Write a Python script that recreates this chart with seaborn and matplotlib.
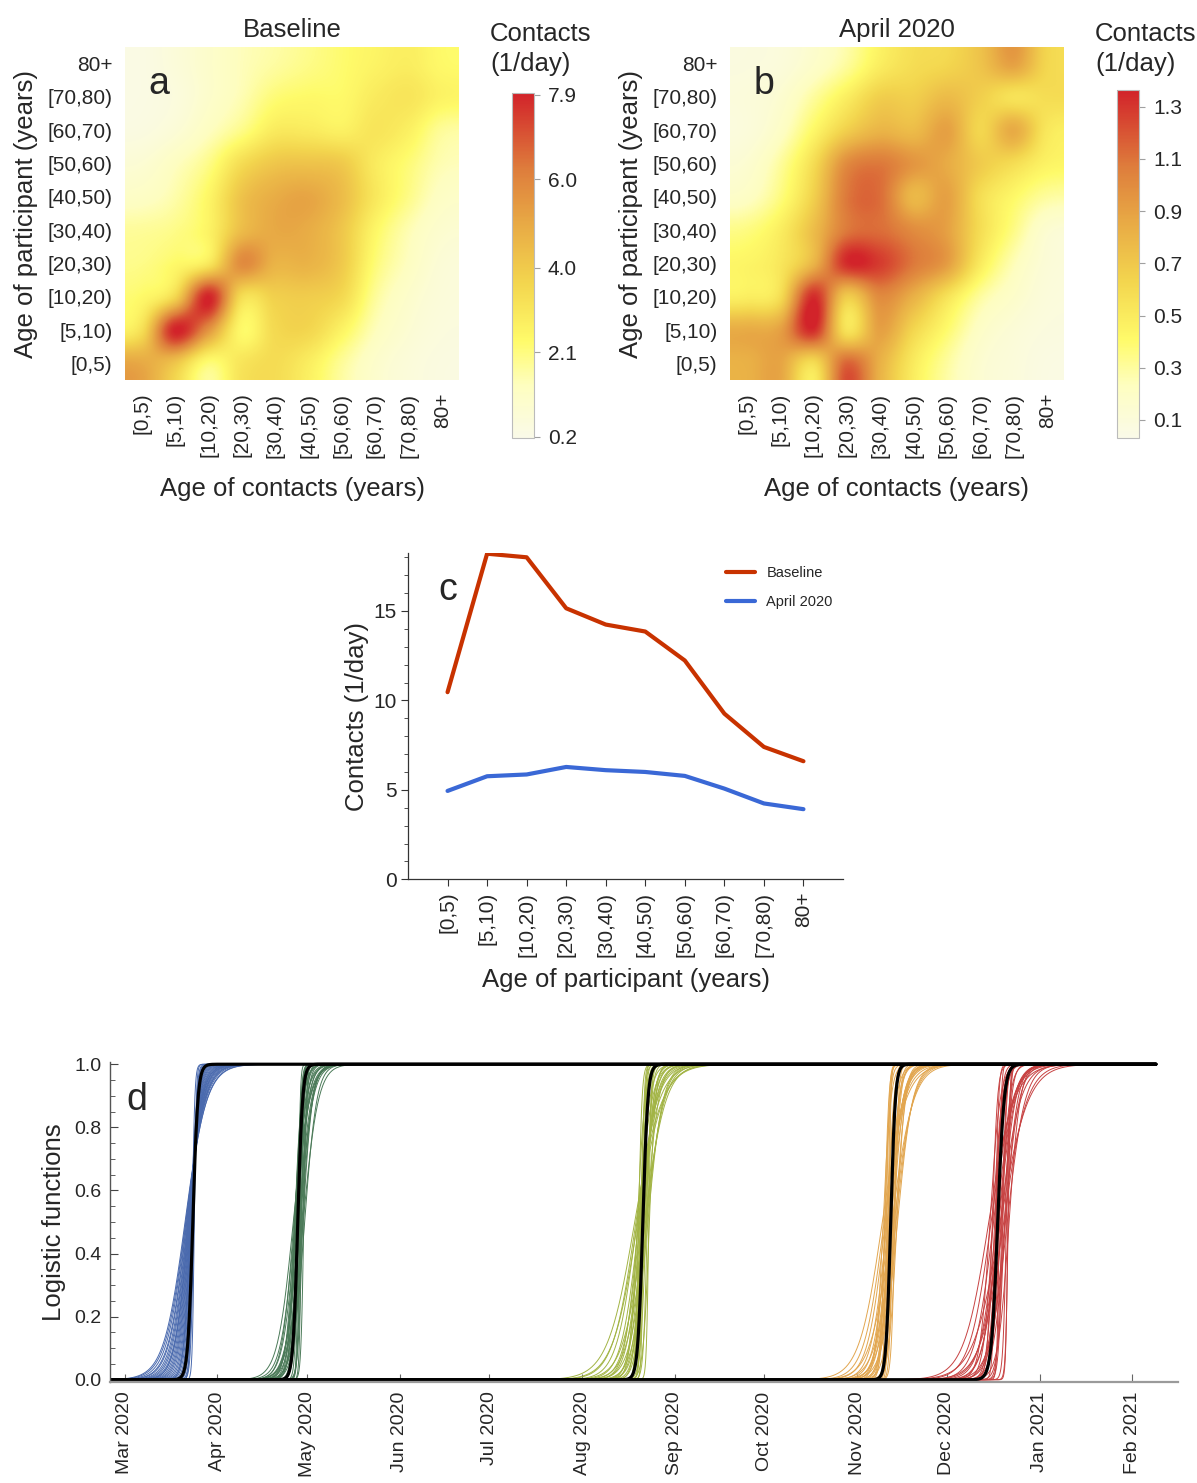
import numpy as np
import pandas as pd
import matplotlib
matplotlib.use("Agg")
import matplotlib.pyplot as plt
import matplotlib.dates as mdates
from matplotlib.colors import LinearSegmentedColormap
from matplotlib.ticker import MultipleLocator
import seaborn as sns

sns.set_theme(style="white")
plt.rcParams["font.family"] = ["Liberation Sans", "DejaVu Sans"]

# ---------------- data ----------------
age_groups = ["[0,5)", "[5,10)", "[10,20)", "[20,30)", "[30,40)",
              "[40,50)", "[50,60)", "[60,70)", "[70,80)", "80+"]

# rows = age of participant ([0,5) first ... 80+ last), columns = age of contacts
baseline_matrix = [
    [5.0, 4.1, 2.2, 3.1, 3.4, 2.8, 1.8, 1.0, 0.6, 0.4],
    [3.3, 7.9, 5.6, 2.4, 3.5, 3.6, 2.6, 1.4, 0.8, 0.5],
    [2.4, 3.6, 7.9, 3.4, 3.8, 3.9, 3.5, 1.8, 1.0, 0.6],
    [2.0, 2.4, 3.0, 5.8, 4.7, 4.7, 4.0, 2.2, 1.3, 0.7],
    [1.8, 2.0, 2.6, 4.4, 5.0, 4.9, 4.1, 2.5, 1.5, 0.9],
    [1.2, 1.6, 2.5, 4.2, 4.9, 5.1, 4.4, 3.0, 2.0, 1.2],
    [0.8, 1.3, 2.0, 3.4, 4.1, 4.2, 4.0, 2.9, 2.2, 1.5],
    [0.4, 0.7, 1.3, 2.0, 2.9, 2.9, 2.7, 3.1, 2.7, 1.8],
    [0.3, 0.5, 1.0, 1.5, 2.2, 2.4, 2.4, 2.9, 3.1, 2.6],
    [0.3, 0.6, 1.0, 1.4, 1.7, 2.0, 2.3, 2.6, 2.8, 2.4],
]
april_matrix = [
    [0.82, 0.88, 0.58, 1.15, 0.82, 0.50, 0.30, 0.15, 0.10, 0.06],
    [0.85, 0.90, 1.33, 0.55, 0.90, 0.62, 0.40, 0.20, 0.12, 0.08],
    [0.48, 0.58, 1.33, 0.68, 1.00, 0.82, 0.55, 0.30, 0.18, 0.10],
    [0.44, 0.52, 0.80, 1.33, 1.28, 1.08, 0.92, 0.50, 0.25, 0.12],
    [0.36, 0.48, 0.75, 1.08, 1.12, 1.00, 0.90, 0.58, 0.35, 0.15],
    [0.21, 0.36, 0.65, 1.08, 1.12, 0.78, 0.90, 0.58, 0.42, 0.30],
    [0.15, 0.30, 0.58, 1.00, 1.08, 0.95, 0.85, 0.68, 0.58, 0.45],
    [0.10, 0.20, 0.42, 0.66, 0.80, 0.76, 0.90, 0.62, 0.85, 0.52],
    [0.10, 0.15, 0.30, 0.48, 0.66, 0.66, 0.76, 0.66, 0.55, 0.58],
    [0.08, 0.10, 0.18, 0.30, 0.48, 0.58, 0.62, 0.72, 0.90, 0.62],
]
baseline_range = (0.17, 7.94)
april_range = (0.031, 1.364)
baseline_ticks = [0.2, 2.1, 4.0, 6.0, 7.9]
april_ticks = [0.1, 0.3, 0.5, 0.7, 0.9, 1.1, 1.3]

baseline_total = [10.46, 18.2, 18.0, 15.15, 14.24, 13.85, 12.23, 9.26, 7.40, 6.60]
april_total = [4.94, 5.76, 5.86, 6.28, 6.10, 6.00, 5.78, 5.07, 4.24, 3.92]

# logistic functions: midpoints (days after 1 Mar 2020) and rates (1/day)
origin = pd.Timestamp("2020-03-01")
blue_mid = [20.2, 20.4, 20.5, 20.7, 20.8, 21.0, 21.1, 21.2, 21.4, 21.5, 21.6, 21.7, 21.8, 21.9, 22.0,
            22.1, 22.2, 22.3, 22.4, 22.5, 22.6, 22.7, 22.8, 22.9, 23.0, 23.1, 21.3, 22.0, 22.6, 23.3]
blue_rate = [0.28, 0.29, 0.31, 0.33, 0.34, 0.36, 0.38, 0.40, 0.42, 0.44, 0.47, 0.50, 0.53, 0.56, 0.60,
             0.65, 0.70, 0.76, 0.83, 0.90, 1.00, 1.10, 1.25, 1.45, 1.70, 2.00, 0.45, 0.90, 2.40, 3.00]
green_mid = [56.4, 56.6, 56.8, 57.0, 57.1, 57.3, 57.4, 57.6, 57.7, 57.9, 58.0, 58.2, 58.3, 58.5, 58.6,
             58.8, 58.9, 59.1, 59.3, 59.5, 59.7, 59.9, 57.2, 57.8, 58.4, 59.0, 59.6, 56.9, 58.1, 60.2]
green_rate = [0.38, 0.50, 0.70, 0.42, 1.00, 0.46, 0.60, 1.50, 0.55, 0.80, 2.00, 0.48, 1.20, 0.65, 2.50,
              0.52, 0.90, 3.00, 0.58, 1.40, 0.40, 2.20, 0.75, 1.10, 0.45, 1.80, 0.62, 0.90, 3.20, 0.50]
olive_mid = [170.6, 171.0, 171.3, 171.6, 171.8, 172.0, 172.2, 172.4, 172.6, 172.8, 173.0, 173.2, 173.4, 173.6, 173.8,
             174.0, 174.2, 174.4, 174.6, 174.8, 175.0, 175.3, 171.5, 172.5, 173.5, 174.5, 175.5, 172.9, 173.7, 171.9]
olive_rate = [0.22, 0.26, 0.30, 0.24, 0.45, 0.34, 0.60, 0.38, 0.90, 0.42, 1.30, 0.50, 2.00, 0.55, 0.28,
              0.70, 0.32, 1.10, 0.36, 1.60, 0.40, 2.60, 0.80, 1.50, 3.00, 0.50, 1.00, 2.40, 0.65, 1.80]
orange_mid = [253.4, 253.7, 254.0, 254.2, 254.4, 254.6, 254.8, 255.0, 255.2, 255.4, 255.6, 255.8, 256.0, 256.2, 256.4,
              256.6, 256.8, 257.0, 257.2, 257.4, 257.6, 257.8, 258.0, 258.3, 254.3, 255.3, 256.3, 257.3, 258.5, 255.9]
orange_rate = [0.26, 0.80, 0.30, 1.50, 0.34, 0.60, 2.20, 0.38, 1.00, 0.42, 3.00, 0.46, 0.70, 0.50, 1.30,
               0.28, 2.00, 0.55, 0.90, 0.32, 1.70, 0.60, 0.36, 0.75, 1.20, 2.60, 0.44, 1.10, 0.40, 0.65]
red_mid = [289.0, 289.4, 289.8, 290.2, 290.6, 291.0, 291.3, 291.6, 291.9, 292.2, 292.5, 292.8, 293.1, 293.4, 293.7,
           294.0, 294.3, 294.6, 294.9, 295.2, 295.5, 295.8, 290.4, 291.4, 292.4, 293.4, 294.4, 295.4, 291.8, 293.0]
red_rate = [0.24, 0.60, 0.28, 1.20, 0.32, 0.80, 2.00, 0.36, 1.00, 0.40, 2.80, 0.30, 0.70, 0.45, 1.50,
            0.26, 0.90, 0.50, 1.80, 0.34, 2.40, 0.55, 0.65, 1.10, 0.38, 1.40, 0.42, 3.00, 0.75, 0.22]
mean_mid = [22.8, 57.9, 173.3, 256.2, 292.0]
mean_rate = [1.2, 1.26, 1.2, 1.3, 0.95]
day_span = (-4.9, 345.0)

# ---------------- styling ----------------
W, H = 1197, 1483
fig = plt.figure(figsize=(W / 100, H / 100), dpi=100)

def fx(px):
    return px / W

def fy(py):
    return 1 - py / H

cmap = LinearSegmentedColormap.from_list(
    "contacts",
    [(0.0, "#FAFAE8"), (0.15, "#FEFEC0"), (0.28, "#FFFB6A"), (0.45, "#F3D54E"),
     (0.62, "#E8AA45"), (0.78, "#DE7D3C"), (1.0, "#D2232A")])

LBL = 18.5
TCK = 15
LET = 27

def heat_panel(left_px, matrix, rng, ticks, title, letter, cbar_left, cbar_top, text_left):
    ax = fig.add_axes([fx(left_px), fy(380), fx(334), 333 / H])
    im = ax.imshow(np.array(matrix), origin="lower", cmap=cmap, vmin=rng[0], vmax=rng[1],
                   interpolation="catrom", interpolation_stage="data",
                   aspect="auto", extent=(-0.5, 9.5, -0.5, 9.5))
    ax.set_xticks(range(10))
    ax.set_yticks(range(10))
    ax.set_xticklabels(age_groups, rotation=90, fontsize=TCK, va="top")
    ax.set_yticklabels(age_groups, fontsize=TCK)
    ax.tick_params(length=0, pad=9)
    for s in ax.spines.values():
        s.set_visible(False)
    ax.set_xlabel("Age of contacts (years)", fontsize=LBL, labelpad=14)
    ax.set_ylabel("Age of participant (years)", fontsize=LBL, labelpad=7)
    ax.set_title(title, fontsize=LBL, pad=7)
    ax.text(0.07, 0.86, letter, transform=ax.transAxes, fontsize=LET, va="baseline")
    cax = fig.add_axes([fx(cbar_left), fy(438), fx(22), (438 - cbar_top) / H])
    cb = fig.colorbar(im, cax=cax, ticks=ticks)
    cb.ax.set_yticklabels([f"{t:.1f}" for t in ticks], fontsize=TCK)
    cb.ax.tick_params(length=4, width=0.8, color="#A0A0A0", pad=6)
    cb.outline.set_edgecolor("#BBBBBB")
    cb.outline.set_linewidth(0.8)
    fig.text(fx(text_left), fy(49), "Contacts\n(1/day)", fontsize=LBL, ha="left",
             va="center", linespacing=1.35)
    return ax

heat_panel(125, baseline_matrix, baseline_range, baseline_ticks, "Baseline", "a", 512, 93, 490)
heat_panel(730, april_matrix, april_range, april_ticks, "April 2020", "b", 1117, 90, 1095)

# ---------------- panel c ----------------
axc = fig.add_axes([fx(408), fy(879.3), fx(435), 326.3 / H])
df_c = pd.DataFrame({
    "age": list(range(10)) * 2,
    "contacts": baseline_total + april_total,
    "period": ["Baseline"] * 10 + ["April 2020"] * 10,
})
sns.lineplot(data=df_c, x="age", y="contacts", hue="period",
             palette={"Baseline": "#C83200", "April 2020": "#3A68D6"},
             linewidth=3.0, ax=axc)
axc.set_xlim(-1, 10)
axc.set_ylim(0, 18.24)
axc.set_xticks(range(10))
axc.set_xticklabels(age_groups, rotation=90, fontsize=TCK, va="top")
axc.set_yticks([0, 5, 10, 15])
axc.set_yticklabels(["0", "5", "10", "15"], fontsize=TCK)
axc.yaxis.set_minor_locator(MultipleLocator(1))
axc.tick_params(axis="both", which="major", direction="out", length=5, width=0.8,
                color="#333333", pad=3, left=True, bottom=True)
axc.tick_params(axis="y", which="minor", direction="out", length=3, width=0.6,
                color="#333333", left=True)
axc.tick_params(axis="x", which="major", pad=4)
for s in ["top", "right"]:
    axc.spines[s].set_visible(False)
for s in ["left", "bottom"]:
    axc.spines[s].set_color("#333333")
    axc.spines[s].set_linewidth(0.9)
axc.set_xlabel("Age of participant (years)", fontsize=LBL, labelpad=8)
axc.set_ylabel("Contacts (1/day)", fontsize=LBL, labelpad=3)
axc.text(0.07, 0.855, "c", transform=axc.transAxes, fontsize=LET, va="baseline")
axc.legend(loc="upper left", bbox_to_anchor=(0.7, 1.0), frameon=False,
           fontsize=10.5, handlelength=2.0, handletextpad=0.8, labelspacing=1.0)

# ---------------- panel d ----------------
axd = fig.add_axes([fx(110), fy(1381.7), fx(1068), 320 / H])
t = np.arange(day_span[0], day_span[1] + 0.001, 0.2)
dates = origin + pd.to_timedelta(t, unit="D")
groups = [("blue", blue_mid, blue_rate), ("green", green_mid, green_rate),
          ("olive", olive_mid, olive_rate), ("orange", orange_mid, orange_rate),
          ("red", red_mid, red_rate)]
frames = []
for g, mids, rates in groups:
    for i, (m, k) in enumerate(zip(mids, rates)):
        frames.append(pd.DataFrame({"date": dates, "value": 1 / (1 + np.exp(-k * (t - m))),
                                    "group": g, "curve": f"{g}{i}"}))
df_d = pd.concat(frames, ignore_index=True)
palette_d = {"blue": "#4A6AAE", "green": "#4B7A58", "olive": "#A2B444",
             "orange": "#E2A64F", "red": "#C74242"}
sns.lineplot(data=df_d, x="date", y="value", hue="group", units="curve", estimator=None,
             palette=palette_d, linewidth=0.7, legend=False, ax=axd)
mean_frames = []
for i, (m, k) in enumerate(zip(mean_mid, mean_rate)):
    mean_frames.append(pd.DataFrame({"date": dates, "value": 1 / (1 + np.exp(-k * (t - m))),
                                     "curve": f"mean{i}"}))
df_mean = pd.concat(mean_frames, ignore_index=True)
sns.lineplot(data=df_mean, x="date", y="value", units="curve", estimator=None,
             color="black", linewidth=2.3, legend=False, ax=axd)
axd.set_xlim(origin + pd.Timedelta(days=-4.9), origin + pd.Timedelta(days=352.3))
axd.set_ylim(-0.006, 1.008)
axd.xaxis.set_major_locator(mdates.MonthLocator())
axd.xaxis.set_major_formatter(mdates.DateFormatter("%b %Y"))
plt.setp(axd.get_xticklabels(), rotation=90, fontsize=14, va="top", ha="center")
axd.set_yticks([0, 0.2, 0.4, 0.6, 0.8, 1.0])
axd.set_yticklabels(["0.0", "0.2", "0.4", "0.6", "0.8", "1.0"], fontsize=14)
axd.yaxis.set_minor_locator(MultipleLocator(0.05))
axd.tick_params(axis="y", which="major", direction="in", length=6, width=0.8,
                color="#444444", pad=6, left=True)
axd.tick_params(axis="y", which="minor", direction="in", length=3.5, width=0.6,
                color="#444444", left=True)
axd.tick_params(axis="x", which="major", direction="in", length=6, width=0.8,
                color="#666666", pad=7, bottom=True)
for s in ["top", "right"]:
    axd.spines[s].set_visible(False)
axd.spines["left"].set_color("#555555")
axd.spines["left"].set_linewidth(1.0)
axd.spines["bottom"].set_color("#9A9A9A")
axd.spines["bottom"].set_linewidth(1.6)
axd.set_xlabel("")
axd.set_ylabel("Logistic functions", fontsize=LBL, labelpad=6)
axd.text(0.015, 0.85, "d", transform=axd.transAxes, fontsize=LET, va="baseline")

fig.savefig("out.png", dpi=100)
